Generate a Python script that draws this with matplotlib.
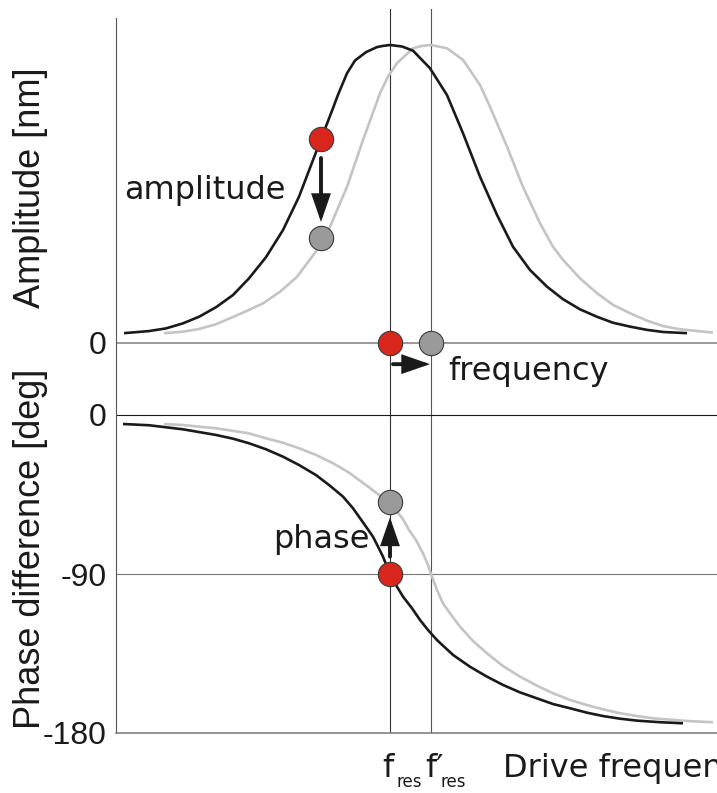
#Curvas de resonancia: amplitud y fase

import numpy as np
import matplotlib.pyplot as plt

#Datos (frecuencia en unidades arbitrarias)
f_res = 27.4
f_res_nueva = 31.5

amp_x_negra = [0.8, 3.3, 5.0, 6.7, 8.3, 10.0, 11.7, 13.3, 15.0, 16.7, 18.3, 20.5, 21.7,
               22.2, 23.1, 23.9, 25.0, 26.1, 26.7, 27.4, 28.6, 29.7, 31.4, 33.1, 34.7,
               36.4, 38.1, 39.7, 41.4, 43.1, 44.7, 46.4, 48.1, 49.7, 51.4, 53.1, 54.7,
               57.1]
amp_y_negra = [0.33, 0.40, 0.49, 0.66, 0.88, 1.20, 1.61, 2.17, 2.88, 3.79, 4.91, 6.84, 7.88,
               8.33, 9.05, 9.48, 9.76, 9.93, 9.97, 10.0, 9.95, 9.81, 9.22, 8.32, 7.04,
               5.58, 4.30, 3.23, 2.45, 1.89, 1.47, 1.13, 0.88, 0.68, 0.55, 0.44, 0.37,
               0.33]

amp_x_gris = [4.8, 6.7, 8.3, 10.0, 11.4, 13.1, 14.7, 16.4, 18.1, 20.1, 21.4, 23.1, 24.7,
              26.4, 27.2, 28.1, 29.7, 30.6, 31.5, 33.1, 34.7, 36.4, 37.4, 39.1,
              40.7, 42.4, 43.7, 44.7, 46.4, 48.1, 49.7, 51.4, 53.1, 54.7, 56.4, 59.7]
amp_y_gris = [0.33, 0.38, 0.47, 0.63, 0.83, 1.08, 1.33, 1.72, 2.22, 3.12, 3.90, 5.24, 6.81,
              8.38, 8.94, 9.39, 9.89, 9.97, 10.0, 9.89, 9.50, 8.66, 7.93, 6.59,
              5.24, 4.02, 3.23, 2.79, 2.17, 1.67, 1.28, 1.00, 0.75, 0.57, 0.46, 0.35]

fase_x_negra = [0.7, 3.3, 6.7, 10.0, 11.7, 13.3, 15.0, 16.7, 18.3, 20.0, 21.3, 22.7, 23.7,
                24.3, 25.0, 25.7, 26.2, 26.7, 27.1, 27.4, 28.1, 28.7, 29.6, 30.4, 31.2,
                32.1, 33.7, 35.4, 37.1, 38.7, 40.4, 42.1, 43.7, 45.4, 47.1, 48.7, 50.4,
                52.1, 54.4, 56.7]
fase_y_negra = [-5.1, -5.8, -8.1, -11.3, -13.4, -16.0, -19.4, -23.6, -28.3, -34.0, -39.6,
                -46.2, -52.8, -57.6, -63.2, -68.9, -74.5, -80.2, -85.9, -90.0, -97.2,
                -102.8, -109.4, -116.0, -121.7, -127.4, -135.8, -142.5, -148.1, -152.8,
                -157.0, -160.4, -163.6, -166.0, -168.5, -170.4, -171.9, -173.0, -173.9,
                -174.5]

fase_x_gris = [4.8, 6.7, 10.0, 13.3, 15.0, 16.7, 18.3, 20.0, 21.7, 23.3, 24.3, 25.3, 26.3,
               27.2, 28.0, 28.7, 29.3, 30.0, 30.7, 31.2, 31.5, 32.1, 32.7, 33.6, 34.4,
               35.7, 37.1, 38.7, 40.4, 42.1, 43.7, 45.4, 47.1, 48.7, 50.4, 52.1, 53.7,
               57.1, 59.7]
fase_y_gris = [-5.1, -5.7, -7.5, -10.4, -13.2, -15.7, -18.8, -22.6, -27.3, -32.6, -36.8,
               -40.9, -45.3, -49.4, -53.8, -59.0, -65.1, -70.8, -78.3, -84.9, -90.0,
               -99.1, -106.6, -113.8, -119.8, -127.9, -134.9, -142.1, -148.1, -153.2,
               -157.5, -161.3, -164.2, -166.6, -168.8, -170.4, -171.7, -173.2, -173.9]

#Puntos marcados
x_punto = 20.5
amp_antes = 6.84
amp_despues = 3.51
fase_despues = -49.2

ticks_amp = [0]
ticks_fase = [0, -90, -180]

negro = '#1a1a1a'
gris_claro = '#c4c4c4'
rojo = '#d9261c'
gris_punto = '#9a9a9a'
fuente_txt = 'DejaVu Sans'
fuente_ejes = 'Liberation Sans'

W, H = 717, 793
fig = plt.figure(figsize=(W / 100, H / 100), dpi=100)

#Ejes en pixeles de la figura (arriba: amplitud, abajo: fase)
ax1 = fig.add_axes([116 / W, (H - 400) / H, 601 / W, 391 / H])
ax2 = fig.add_axes([116 / W, (H - 733) / H, 601 / W, 333 / H])

esc_amp = 29.8   # px por nm
ax1.set_xlim(0, 60.1)
ax1.set_ylim(-(400 - 343) / esc_amp, (343 - 9) / esc_amp)
esc_fase = 318 / 180   # px por grado
ax2.set_xlim(0, 60.1)
ax2.set_ylim(-180, 15 / esc_fase)

for ax in (ax1, ax2):
    for s in ('top', 'right', 'bottom'):
        ax.spines[s].set_visible(False)
    ax.spines['left'].set_color('#555555')
    ax.spines['left'].set_linewidth(0.8)
    ax.set_xticks([])
    ax.tick_params(axis='y', length=0, pad=7, labelsize=23, labelcolor=negro)
    ax.patch.set_alpha(0)
    ax.axvline(f_res, color='#333333', lw=0.8, zorder=1)
    ax.axvline(f_res_nueva, color='#555555', lw=0.8, zorder=1)

ax1.spines['left'].set_bounds(-(400 - 343) / esc_amp, (343 - 18) / esc_amp)
ax2.spines['bottom'].set_visible(True)
ax2.spines['bottom'].set_color('#777777')
ax2.spines['bottom'].set_linewidth(1.1)

ax1.set_yticks(ticks_amp)
ax1.set_yticklabels([str(t) for t in ticks_amp], fontfamily=fuente_ejes)
ax2.set_yticks(ticks_fase)
ax2.set_yticklabels([str(t) for t in ticks_fase], fontfamily=fuente_ejes)

#Lineas horizontales
ax1.axhline(0, color='#7f7f7f', lw=1.1, zorder=1)
ax2.axhline(0, color=negro, lw=0.8, zorder=1)
ax2.axhline(-90, color='#777777', lw=0.8, zorder=1)

#Curvas
kw_curva = dict(lw=1.9, solid_joinstyle='round', solid_capstyle='butt')
ax1.plot(amp_x_gris, amp_y_gris, color=gris_claro, zorder=2, **kw_curva)
ax1.plot(amp_x_negra, amp_y_negra, color=negro, zorder=3, **kw_curva)
ax2.plot(fase_x_gris, fase_y_gris, color=gris_claro, zorder=2, **kw_curva)
ax2.plot(fase_x_negra, fase_y_negra, color=negro, zorder=3, **kw_curva)

#Flechas
flecha = dict(arrowstyle='-|>,head_length=0.75,head_width=0.26', lw=2.8, color=negro,
              mutation_scale=20, shrinkA=0, shrinkB=0, joinstyle='miter')
ax1.annotate('', xy=(x_punto, (343 - 222) / esc_amp), xytext=(x_punto, (343 - 158) / esc_amp),
             arrowprops=flecha, zorder=4)
ax1.annotate('', xy=(31.4, -0.71), xytext=(27.7, -0.71), arrowprops=flecha,
             annotation_clip=False, zorder=4)
ax2.annotate('', xy=(f_res, -58.0), xytext=(f_res, -80.2), arrowprops=flecha, zorder=4)

#Puntos
kw_rojo = dict(marker='o', ms=17.5, mfc=rojo, mec='#3a3a3a', mew=0.8, clip_on=False, zorder=5)
kw_gris = dict(marker='o', ms=17.5, mfc=gris_punto, mec='#3a3a3a', mew=0.8, clip_on=False, zorder=5)
ax1.plot([x_punto], [amp_antes], **kw_rojo)
ax1.plot([x_punto], [amp_despues], **kw_gris)
ax1.plot([f_res], [0], **kw_rojo)
ax1.plot([f_res_nueva], [0], **kw_gris)
ax2.plot([f_res], [-90], **kw_rojo)
ax2.plot([f_res], [fase_despues], **kw_gris)

#Textos
ax1.text(0.8, (343 - 199) / esc_amp, 'amplitude', fontsize=23, family=fuente_txt,
         color=negro, va='baseline', ha='left')
ax1.text(33.2, (343 - 380) / esc_amp, 'frequency', fontsize=23, family=fuente_txt,
         color=negro, va='baseline', ha='left')
ax2.text(15.7, -(548 - 415) / esc_fase, 'phase', fontsize=23, family=fuente_txt,
         color=negro, va='baseline', ha='left')

#Etiquetas del eje x (f_res, f'_res y titulo cortado por el borde)
trans = ax2.get_xaxis_transform()
y_base = -(777 - 733) / 333
y_sub = -(787 - 733) / 333
ax2.text(26.6, y_base, 'f', fontsize=23, family=fuente_txt, color=negro,
         va='baseline', ha='left', transform=trans)
ax2.text(28.1, y_sub, 'res', fontsize=12, family=fuente_txt, color=negro,
         va='baseline', ha='left', transform=trans)
ax2.text(30.9, y_base, 'f\u2032', fontsize=23, family=fuente_txt, color=negro,
         va='baseline', ha='left', transform=trans)
ax2.text(32.4, y_sub, 'res', fontsize=12, family=fuente_txt, color=negro,
         va='baseline', ha='left', transform=trans)
ax2.text(38.7, y_base, 'Drive frequency', fontsize=23, family=fuente_txt,
         color=negro, va='baseline', ha='left', transform=trans, clip_on=False)

#Titulos de los ejes
fig.text(31 / W, 1 - 188 / H, 'Amplitude [nm]', rotation=90, fontsize=26,
         family=fuente_ejes, color=negro, ha='center', va='center')
fig.text(31 / W, 1 - 549 / H, 'Phase difference [deg]', rotation=90, fontsize=26,
         family=fuente_ejes, color=negro, ha='center', va='center')

fig.savefig('out.png', dpi=100)
